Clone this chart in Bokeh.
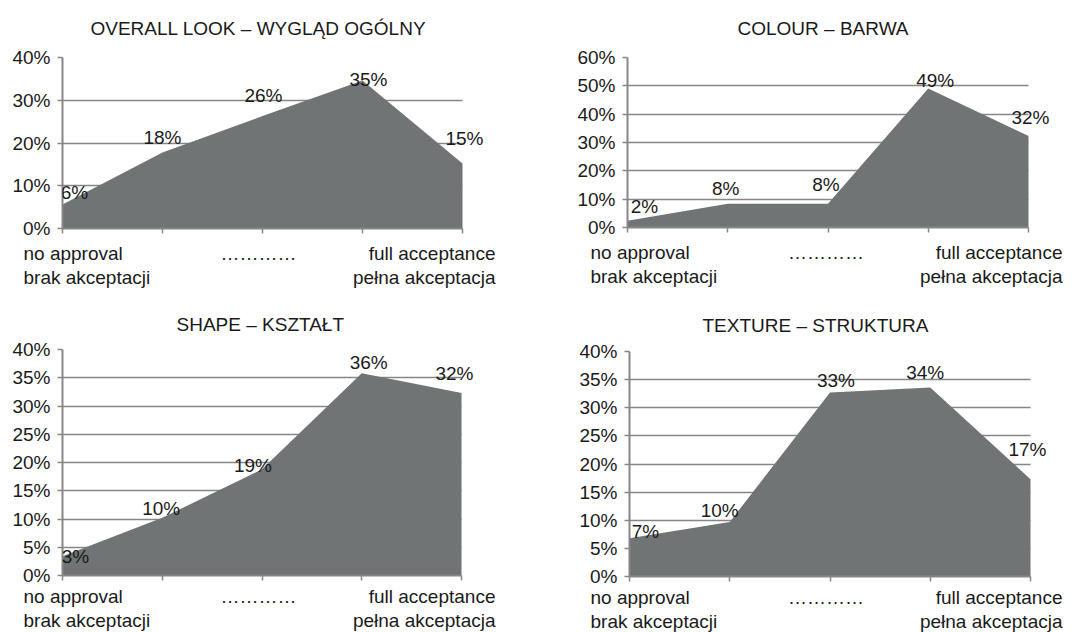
from bokeh.plotting import figure
from bokeh.models import (ColumnDataSource, LabelSet, FixedTicker, PrintfTickFormatter, Range1d,
                          LinearAxis)
from bokeh.layouts import column, row
from bokeh.core.properties import value
from bokeh.embed import file_html
from bokeh.resources import INLINE

# ---------------- data ----------------
scale_points = [1, 2, 3, 4, 5]
overall_look = [5.6, 17.8, 26.3, 34.6, 15.2]
colour = [2.4, 8.4, 8.4, 49.1, 32.3]
shape = [3.4, 10.2, 18.8, 35.8, 32.3]
texture = [6.8, 9.7, 32.7, 33.6, 17.3]
titles = ["OVERALL LOOK – WYGLĄD OGÓLNY", "COLOUR – BARWA", "SHAPE – KSZTAŁT", "TEXTURE – STRUKTURA"]
y_max = [40, 60, 40, 40]
y_step = [10, 10, 5, 5]
left_label = ["no approval", "brak akceptacji"]
mid_label = "…………"
right_label = ["full acceptance", "pełna akceptacja"]

series = [overall_look, colour, shape, texture]

# ---------------- styling / geometry ----------------
FONT = "Liberation Sans"
FS = "19px"
GRAY = "#868686"
FILL = "#707474"
TXT = "#1a1a1a"
EXT = 25  # extra frame room on the right for data labels

# approximate rendered widths (px) of the category texts at 19px
text_w = {"no approval": 99.3, "brak akceptacji": 126.7, "full acceptance": 126.8, "pełna akceptacja": 142.6}

geom = [
    dict(bl=62, bt=57, fw=400, fh=171, W=544, H=300, tleft=28, tstand=33, cl=-39, cm=-4, cr=33, s1=9, s2=0),
    dict(bl=83, bt=57, fw=401, fh=170, W=544, H=300, tleft=110, tstand=33, cl=-37, cm=-2, cr=34, s1=9, s2=0),
    dict(bl=62, bt=49, fw=399, fh=226, W=544, H=332, tleft=114, tstand=26, cl=-39, cm=-3.5, cr=34, s1=5, s2=0),
    dict(bl=85, bt=51, fw=401, fh=225, W=544, H=332, tleft=73, tstand=27, cl=-39, cm=-4, cr=32, s1=5, s2=0),
]
label_dx = [[12, 0, 1, 6, 2], [17, -2, -2, 7, 2], [13, -1, -9, 7, -7], [16, -10, 6, -5, -3]]
label_dy = [[12, 15, 21, 1, 25], [14, 15, 19, 8, 18], [0, 9, 4, 11, 20], [7, 11, 12, 15, 30]]


def style_text_axis(ax, ticks, texts, standoff):
    ax.ticker = FixedTicker(ticks=ticks)
    ax.major_label_overrides = {t: s for t, s in zip(ticks, texts)}
    ax.axis_line_color = None
    ax.major_tick_line_color = None
    ax.minor_tick_line_color = None
    ax.major_tick_out = 0
    ax.major_tick_in = 0
    ax.major_label_standoff = standoff
    ax.major_label_text_font = FONT
    ax.major_label_text_font_size = FS
    ax.major_label_text_color = TXT


def make_panel(i):
    g = geom[i]
    vals = series[i]
    n = len(scale_points)
    last = n - 1
    xs = list(range(n))
    unit = g["fw"] / last
    fw = g["fw"] + EXT
    p = figure(frame_width=fw, frame_height=g["fh"],
               min_border_left=g["bl"], min_border_right=g["W"] - g["bl"] - fw,
               min_border_top=g["bt"], min_border_bottom=g["H"] - g["bt"] - g["fh"],
               x_range=Range1d(0, last * fw / g["fw"]), y_range=Range1d(0, y_max[i]),
               output_backend="svg", toolbar_location=None)
    p.frame_align = False
    p.outline_line_color = None
    p.background_fill_color = "white"
    p.border_fill_color = "white"

    p.title.text = titles[i]
    p.title.align = "left"
    p.title.vertical_align = "top"
    p.title.offset = g["tleft"]
    p.title.standoff = g["tstand"]
    p.title.text_font = FONT
    p.title.text_font_size = FS
    p.title.text_font_style = "normal"
    p.title.text_color = TXT

    yt = FixedTicker(ticks=list(range(0, y_max[i] + 1, y_step[i])))
    p.yaxis.ticker = yt
    p.yaxis.formatter = PrintfTickFormatter(format="%d%%")
    p.ygrid.ticker = yt
    p.ygrid.grid_line_color = GRAY
    p.ygrid.grid_line_width = 1.5
    p.ygrid.cross_bounds = (0, last)
    p.xgrid.visible = False

    p.xaxis.ticker = FixedTicker(ticks=xs)
    p.xaxis.bounds = (0, last)
    p.xaxis.major_label_text_color = None
    p.xaxis.major_label_text_font_size = "1px"
    p.xaxis.major_label_standoff = 0
    for ax in (p.xaxis, p.yaxis):
        ax.axis_line_color = GRAY
        ax.axis_line_width = 2
        ax.major_tick_line_color = GRAY
        ax.major_tick_line_width = 1.5
        ax.major_tick_out = 5
        ax.major_tick_in = 0
        ax.minor_tick_line_color = None
    p.yaxis.major_label_text_font = FONT
    p.yaxis.major_label_text_font_size = FS
    p.yaxis.major_label_text_color = TXT
    p.yaxis.major_label_standoff = 7

    # category texts below the axis (two lines)
    def pos(base, px):
        return round(base + px / unit, 4)
    l1_ticks = [pos(0, g["cl"] + text_w[left_label[0]] / 2),
                pos(last / 2, g["cm"]),
                pos(last, g["cr"] - text_w[right_label[0]] / 2)]
    l2_ticks = [pos(0, g["cl"] + text_w[left_label[1]] / 2),
                pos(last, g["cr"] - text_w[right_label[1]] / 2)]
    ax1 = LinearAxis()
    style_text_axis(ax1, l1_ticks, [left_label[0], mid_label, right_label[0]], g["s1"])
    ax2 = LinearAxis()
    style_text_axis(ax2, l2_ticks, [left_label[1], right_label[1]], g["s2"])
    p.add_layout(ax1, "below")
    p.add_layout(ax2, "below")

    src = ColumnDataSource(dict(
        x=xs, y=vals,
        txt=[f"{int(v + 0.5)}%" for v in vals],
        dx=label_dx[i], dy=label_dy[i],
    ))
    p.varea(x="x", y1=0, y2="y", source=src, fill_color=FILL)
    p.add_layout(LabelSet(x="x", y="y", text="txt", x_offset="dx", y_offset="dy", source=src,
                          text_align="center", text_baseline="middle",
                          text_font=value(FONT), text_font_size=value(FS), text_color=TXT))
    return p


panels = [make_panel(i) for i in range(4)]
layout = column(row(panels[0], panels[1], spacing=0), row(panels[2], panels[3], spacing=0), spacing=0)

open("out.html", "w").write(file_html(layout, INLINE))
